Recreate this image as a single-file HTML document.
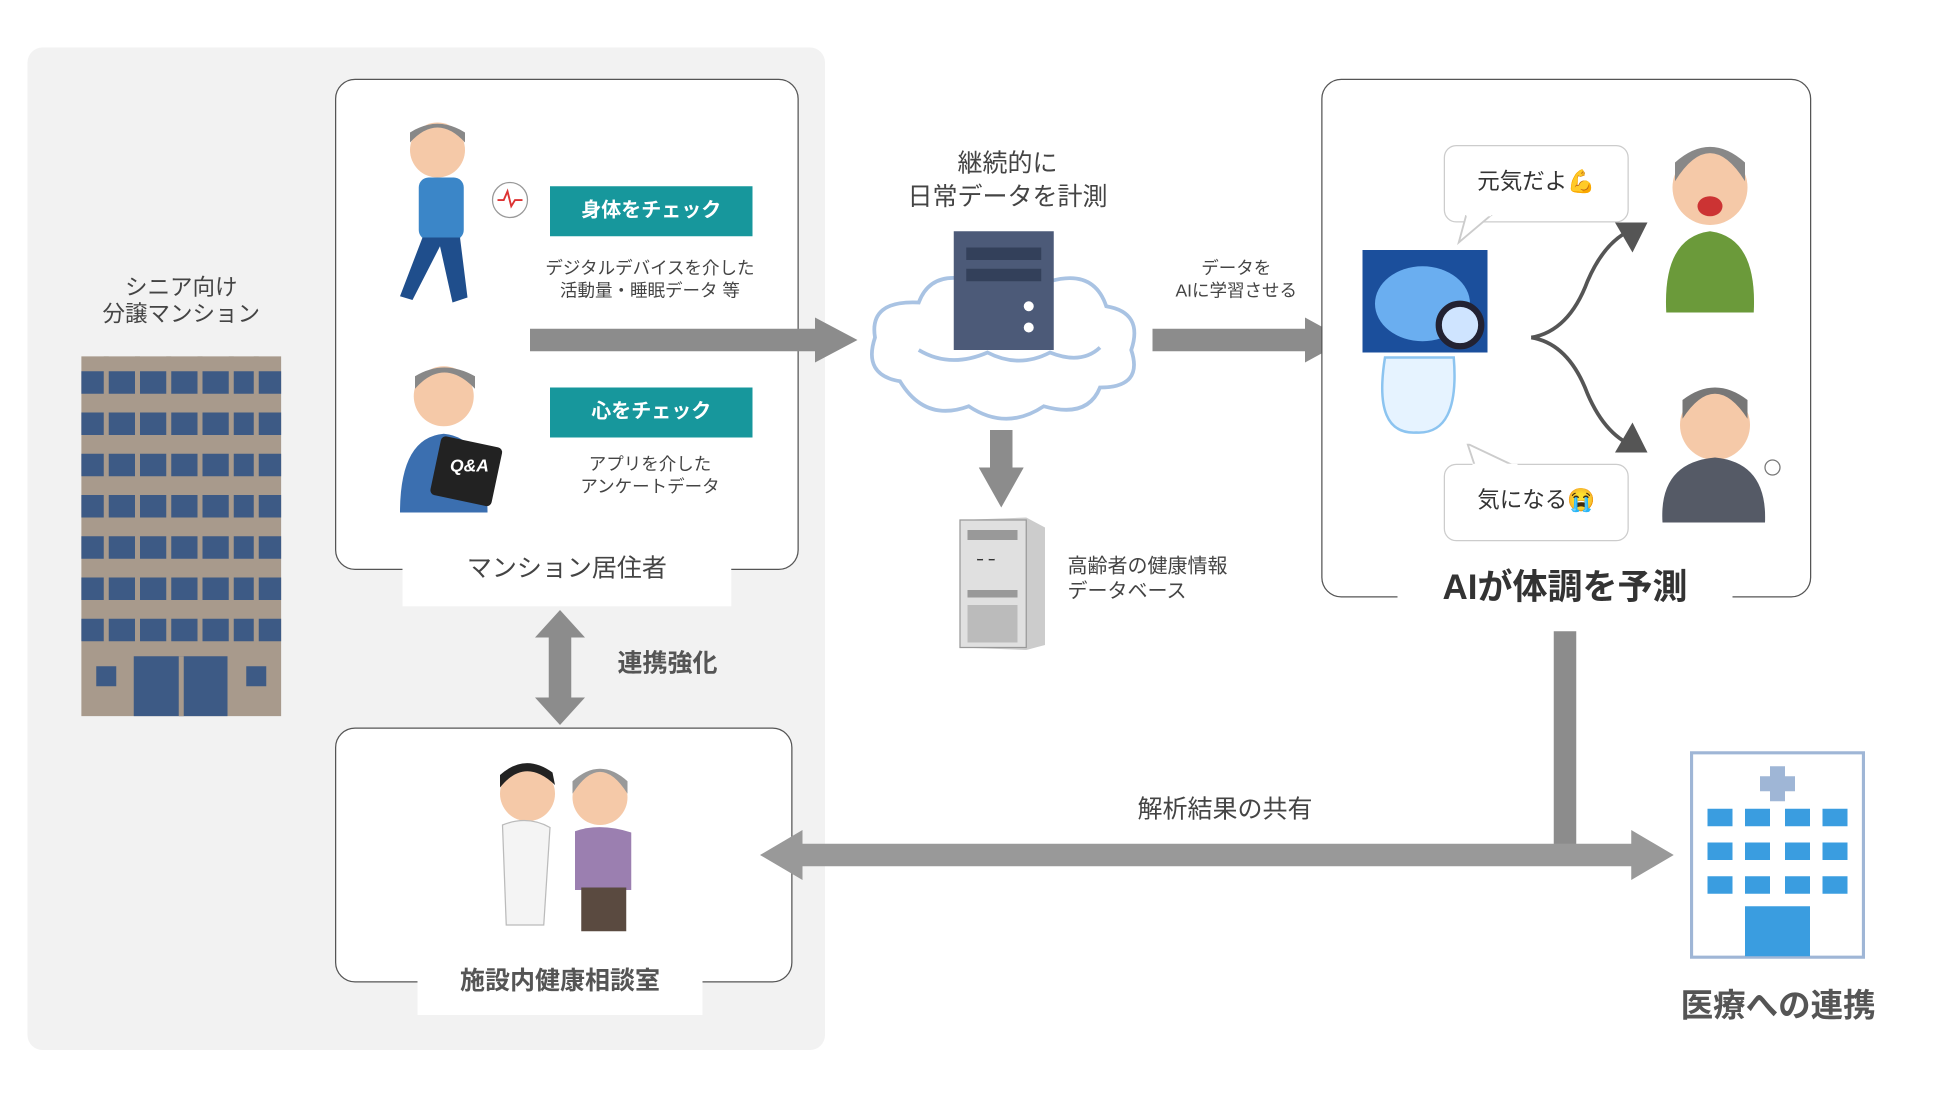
<!DOCTYPE html>
<html><head><meta charset="utf-8"><style>
html,body{margin:0;padding:0;background:#fff;}
body{width:1950px;height:1094px;overflow:hidden;font-family:"Liberation Sans","Noto Sans CJK JP",sans-serif;color:#444;}
#s{position:absolute;left:0;top:0;width:1560px;height:875px;transform:scale(1.25);transform-origin:0 0;}
.a{position:absolute;}
.t{position:absolute;text-align:center;white-space:nowrap;line-height:1.15;}
.box{position:absolute;background:#fff;border:1.5px solid #555;border-radius:16px;box-sizing:border-box;}
.teal{position:absolute;background:#17979c;color:#fff;font-size:16px;font-weight:bold;text-align:center;line-height:40px;}
.lbl{position:absolute;background:#fff;text-align:center;white-space:nowrap;}
.bub{position:absolute;background:#fff;border:1.5px solid #ccc;border-radius:10px;font-size:18px;color:#333;text-align:center;line-height:56px;}
</style></head><body><div id="s">
<div class="a" style="left:22px;top:38px;width:638px;height:802px;background:#f2f2f2;border-radius:12px"></div>

<div class="t" style="left:70px;top:220px;width:150px;font-size:18px">シニア向け<br>分譲マンション</div>
<svg class="a" style="left:65px;top:285px" width="160" height="288">
<rect width="160" height="288" fill="#a89a8c"/>
<g fill="#3d5a85">
<rect x="0" y="12" width="160" height="18"/><rect x="0" y="45" width="160" height="18"/><rect x="0" y="78" width="160" height="18"/><rect x="0" y="111" width="160" height="18"/><rect x="0" y="144" width="160" height="18"/><rect x="0" y="177" width="160" height="18"/><rect x="0" y="210" width="160" height="18"/>
<rect x="42" y="240" width="75" height="48"/><rect x="12" y="248" width="16" height="16"/><rect x="132" y="248" width="16" height="16"/></g>
<g stroke="#a89a8c" stroke-width="4"><line x1="20" y1="0" x2="20" y2="230"/><line x1="45" y1="0" x2="45" y2="230"/><line x1="70" y1="0" x2="70" y2="230"/><line x1="95" y1="0" x2="95" y2="230"/><line x1="120" y1="0" x2="120" y2="230"/><line x1="140" y1="0" x2="140" y2="230"/><line x1="80" y1="240" x2="80" y2="288"/></g>
</svg>

<div class="box" style="left:268px;top:63px;width:371px;height:393px"></div>
<div class="lbl" style="left:322px;top:440px;width:263px;height:45px;font-size:20px;line-height:30px">マンション居住者</div>
<div class="teal" style="left:440px;top:149px;width:162px;height:40px">身体をチェック</div>
<div class="t" style="left:420px;top:205px;width:200px;font-size:14px;line-height:18px">デジタルデバイスを介した<br>活動量・睡眠データ 等</div>
<div class="teal" style="left:440px;top:310px;width:162px;height:40px">心をチェック</div>
<div class="t" style="left:420px;top:362px;width:200px;font-size:14px;line-height:18px">アプリを介した<br>アンケートデータ</div>
<svg class="a" style="left:300px;top:92px" width="125" height="160">
<circle cx="50" cy="28" r="22" fill="#f5c9a8"/><path d="M28 22 Q50 -2 72 22 L72 14 Q50 0 28 14Z" fill="#888"/>
<rect x="35" y="50" width="36" height="50" rx="8" fill="#3b86c8"/><path d="M38 98 L20 145 L30 148 L52 105 L62 150 L74 146 L68 98Z" fill="#1f4e8c"/>
<circle cx="108" cy="68" r="14" fill="#fff" stroke="#999"/><path d="M98 68 h5 l3 -7 l3 12 l3 -5 h6" stroke="#d33" fill="none" stroke-width="1.5"/>
</svg>
<svg class="a" style="left:310px;top:285px" width="100" height="125">
<circle cx="45" cy="32" r="24" fill="#f5c9a8"/><path d="M22 26 Q45 0 70 26 L70 16 Q45 2 22 16Z" fill="#888"/>
<path d="M10 125 Q10 65 45 62 Q80 65 80 125Z" fill="#3b6fb0"/>
<rect x="38" y="68" width="50" height="48" rx="4" fill="#222" transform="rotate(12 63 92)"/><text x="50" y="92" fill="#fff" font-size="14" font-weight="bold" font-style="italic">Q&amp;A</text>
</svg>

<svg class="a" style="left:424px;top:254px" width="262" height="36"><polygon points="0,9 228,9 228,0 262,18 228,36 228,27 0,27" fill="#8c8c8c"/></svg>

<div class="t" style="left:700px;top:118px;width:212px;font-size:20px;line-height:27px">継続的に<br>日常データを計測</div>
<svg class="a" style="left:690px;top:180px" width="230" height="165">
<path d="M30 125 Q0 120 10 90 Q5 60 45 62 Q55 35 90 45 Q120 25 150 45 Q185 35 195 65 Q225 70 215 100 Q225 130 190 130 Q180 155 145 145 Q115 165 85 145 Q50 158 30 125Z" fill="#fff" stroke="#a9c3e3" stroke-width="3"/>
<rect x="73" y="5" width="80" height="95" fill="#4c5a78"/><rect x="83" y="18" width="60" height="10" fill="#33405a"/><rect x="83" y="35" width="60" height="10" fill="#33405a"/><circle cx="133" cy="65" r="4" fill="#fff"/><circle cx="133" cy="82" r="4" fill="#fff"/>
<path d="M45 100 Q70 115 100 102 Q125 115 150 102 Q175 112 190 98" fill="none" stroke="#a9c3e3" stroke-width="3"/>
</svg>
<svg class="a" style="left:783px;top:344px" width="36" height="62"><polygon points="9,0 27,0 27,30 36,30 18,62 0,30 9,30" fill="#8c8c8c"/></svg>
<svg class="a" style="left:766px;top:412px" width="72" height="108"><polygon points="2,4 55,2 70,10 70,104 55,108 2,106" fill="#ccc"/><rect x="2" y="4" width="53" height="102" fill="#e0e0e0" stroke="#999"/><rect x="8" y="12" width="40" height="8" fill="#999"/><rect x="8" y="60" width="40" height="6" fill="#999"/><rect x="8" y="72" width="40" height="30" fill="#bbb"/><text x="15" y="40" font-size="12" fill="#333">ｰ ｰ</text></svg>
<div class="t" style="left:854px;top:444px;text-align:left;font-size:16px;line-height:20px">高齢者の健康情報<br>データベース</div>

<svg class="a" style="left:922px;top:254px" width="155" height="36"><polygon points="0,9 122,9 122,0 155,18 122,36 122,27 0,27" fill="#8c8c8c"/></svg>
<div class="t" style="left:915px;top:205px;width:148px;font-size:14px;line-height:18px">データを<br>AIに学習させる</div>

<div class="box" style="left:1057px;top:63px;width:392px;height:415px"></div>
<div class="lbl" style="left:1118px;top:450px;width:268px;height:40px;font-size:28px;font-weight:bold;line-height:40px;color:#333">AIが体調を予測</div>
<div class="bub" style="left:1155px;top:116px;width:146px;height:60px">元気だよ💪</div>
<svg class="a" style="left:1165px;top:172px" width="40" height="25"><polygon points="8,0 28,0 2,22" fill="#fff" stroke="#ccc" stroke-width="1.5"/><rect x="8" y="-3" width="20" height="4" fill="#fff"/></svg>
<div class="bub" style="left:1155px;top:371px;width:146px;height:60px">気になる😭</div>
<svg class="a" style="left:1170px;top:355px" width="50" height="20"><polygon points="4,0 42,18 10,18" fill="#fff" stroke="#ccc" stroke-width="1.5"/><rect x="8" y="16" width="36" height="4" fill="#fff"/></svg>
<svg class="a" style="left:1088px;top:198px" width="110" height="152">
<rect x="2" y="2" width="100" height="82" fill="#1b4f9c"/><ellipse cx="50" cy="45" rx="38" ry="30" fill="#6aaef0"/><circle cx="80" cy="62" r="17" fill="#cfe4ff" stroke="#223" stroke-width="5"/>
<path d="M20 88 Q10 150 45 148 Q80 150 75 88Z" fill="#e6f3ff" stroke="#8cc4f0" stroke-width="2"/></svg>
<svg class="a" style="left:1220px;top:170px" width="100" height="200">
<path d="M5 100 Q35 95 50 55 Q65 20 90 12" fill="none" stroke="#555" stroke-width="3"/><path d="M5 100 Q35 105 50 145 Q65 180 90 188" fill="none" stroke="#555" stroke-width="3"/>
<polygon points="98,8 72,8 86,32" fill="#555"/><polygon points="98,192 72,192 86,168" fill="#555"/></svg>
<svg class="a" style="left:1318px;top:105px" width="100" height="150">
<circle cx="50" cy="45" r="30" fill="#f5c9a8"/><path d="M22 40 Q50 -5 78 40 L78 25 Q50 0 22 25Z" fill="#888"/><ellipse cx="50" cy="60" rx="10" ry="8" fill="#c33"/>
<path d="M15 145 Q12 85 50 80 Q88 85 85 145Z" fill="#6b9a3a"/></svg>
<svg class="a" style="left:1322px;top:300px" width="110" height="125">
<circle cx="50" cy="40" r="28" fill="#f5c9a8"/><path d="M24 35 Q50 -5 76 35 L76 20 Q50 0 24 20Z" fill="#777"/>
<path d="M8 118 Q5 70 50 66 Q92 70 90 118Z" fill="#555a66"/><circle cx="96" cy="74" r="6" fill="none" stroke="#777"/></svg>

<div class="a" style="left:1243px;top:505px;width:18px;height:172px;background:#8c8c8c"></div>
<div class="t" style="left:880px;top:637px;width:200px;font-size:20px">解析結果の共有</div>
<svg class="a" style="left:1352px;top:601px" width="140" height="166">
<rect x="1" y="1" width="138" height="164" fill="#fff" stroke="#9fb6d6" stroke-width="3"/><rect x="64" y="12" width="12" height="28" fill="#9fb6d6"/><rect x="56" y="20" width="28" height="12" fill="#9fb6d6"/>
<g fill="#3a9de0"><rect x="14" y="46" width="20" height="14"/><rect x="44" y="46" width="20" height="14"/><rect x="76" y="46" width="20" height="14"/><rect x="106" y="46" width="20" height="14"/>
<rect x="14" y="73" width="20" height="14"/><rect x="44" y="73" width="20" height="14"/><rect x="76" y="73" width="20" height="14"/><rect x="106" y="73" width="20" height="14"/>
<rect x="14" y="100" width="20" height="14"/><rect x="44" y="100" width="20" height="14"/><rect x="76" y="100" width="20" height="14"/><rect x="106" y="100" width="20" height="14"/>
<rect x="44" y="124" width="52" height="40"/></g></svg>
<div class="t" style="left:1320px;top:790px;width:205px;font-size:26px;font-weight:bold;color:#555">医療への連携</div>

<svg class="a" style="left:428px;top:488px" width="40" height="92"><polygon points="20,0 40,22 29,22 29,70 40,70 20,92 0,70 11,70 11,22 0,22" fill="#8c8c8c"/></svg>
<div class="t" style="left:494px;top:520px;font-size:20px;font-weight:bold;color:#555">連携強化</div>

<div class="box" style="left:268px;top:582px;width:366px;height:204px"></div>
<div class="lbl" style="left:334px;top:770px;width:228px;height:42px;font-size:20px;font-weight:bold;line-height:30px;color:#555">施設内健康相談室</div>
<svg class="a" style="left:380px;top:600px" width="140" height="150">
<circle cx="42" cy="35" r="22" fill="#f5c9a8"/><path d="M20 30 Q40 5 64 28 L62 18 Q40 2 20 20Z" fill="#222"/>
<path d="M22 60 Q42 52 60 62 L55 140 L25 140Z" fill="#f4f4f4" stroke="#bbb"/>
<circle cx="100" cy="38" r="22" fill="#f5c9a8"/><path d="M78 35 Q100 0 122 35 L122 25 Q100 5 78 25Z" fill="#999"/>
<path d="M80 65 Q100 58 125 66 L125 112 L80 112Z" fill="#9b7fb0"/><rect x="85" y="110" width="36" height="35" fill="#5a4a40"/></svg>
<svg class="a" style="left:608px;top:664px" width="731" height="40"><polygon points="0,20 34,0 34,11 697,11 697,0 731,20 697,40 697,29 34,29 34,40" fill="#999"/></svg>
</div></body></html>
